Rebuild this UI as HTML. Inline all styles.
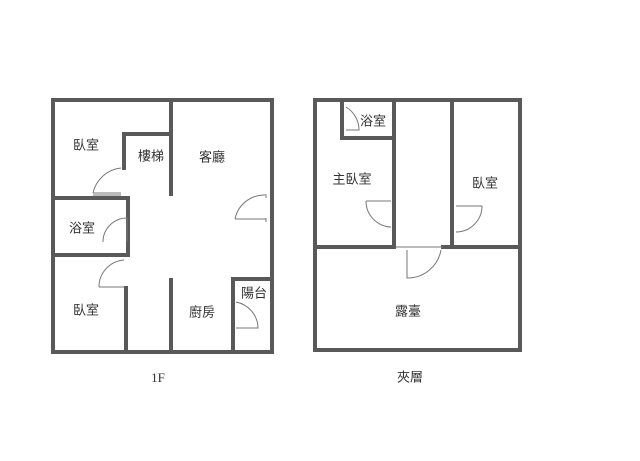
<!DOCTYPE html>
<html><head><meta charset="utf-8"><style>
html,body{margin:0;padding:0;background:#fff;}
svg{display:block}
text{font-family:"Liberation Sans","Noto Sans CJK TC",sans-serif;font-size:13px;fill:#333;text-anchor:middle;dominant-baseline:middle}
.w{stroke:#595959;stroke-width:4;fill:none;stroke-linecap:square}
.d{stroke:#777;stroke-width:1;fill:none}
</style></head><body>
<svg width="640" height="461" viewBox="0 0 640 461">
<!-- 1F -->
<rect class="w" x="53" y="100" width="219" height="252"/>
<path class="w" d="M171 100V194 M124 168V134H167 M53 198H128V255H53 M126 288V352 M171 280V352 M233 352V279H272"/>
<!-- doors 1F -->
<path class="d" d="M93 193A32 32 0 0 1 121 168M93 193H121M93 195H121"/>
<path class="d" d="M103 242A24 24 0 0 1 127 218V242"/>
<path class="d" d="M99 287A27 27 0 0 1 124 260M99 287H124"/>
<path class="d" d="M235 219A30 30 0 0 1 265 195M235 219H266M266 194V198M266 218V222"/>
<path class="d" d="M236 302A27 27 0 0 1 258 328H236"/>
<text x="86" y="146">臥室</text>
<text x="151" y="157">樓梯</text>
<text x="212" y="158">客廳</text>
<text x="82" y="229">浴室</text>
<text x="86" y="311">臥室</text>
<text x="202" y="313">廚房</text>
<text x="254" y="294">陽台</text>
<text x="158" y="379" style="font-family:'Liberation Serif',serif">1F</text>
<!-- Mezzanine -->
<rect class="w" x="315" y="100" width="205" height="250"/>
<path class="w" d="M342 100V138H393 M394 100V246 M452 100V246 M315 247H394 M443 247H520"/>
<path class="d" d="M396 247H443"/>
<path class="d" d="M346 107A27 27 0 0 1 359 130H346"/>
<path class="d" d="M366 201A26 26 0 0 0 391 227M366 201H391"/>
<path class="d" d="M456 232A26 26 0 0 0 482 206H456"/>
<path class="d" d="M407 250V278A34 34 0 0 0 441 250"/>
<text x="373" y="122">浴室</text>
<text x="352" y="180">主臥室</text>
<text x="485" y="184">臥室</text>
<text x="408" y="312">露臺</text>
<text x="410" y="378">夾層</text>
</svg>
</body></html>
